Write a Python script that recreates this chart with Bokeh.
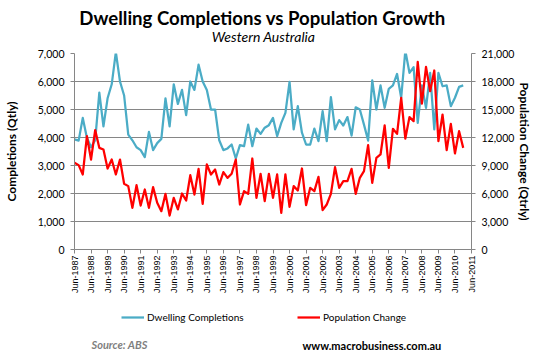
from math import pi
from bokeh.plotting import figure
from bokeh.layouts import column
from bokeh.models import (Range1d, LinearAxis, FixedTicker, Label, Legend,
                          LegendItem, NumeralTickFormatter, ColumnDataSource)
from bokeh.embed import file_html
from bokeh.resources import INLINE

# ---------------- data ----------------
tick_labels = ["Jun-1987", "Jun-1988", "Jun-1989", "Jun-1990", "Jun-1991", "Jun-1992",
               "Jun-1993", "Jun-1994", "Jun-1995", "Jun-1996", "Jun-1997", "Jun-1998",
               "Jun-1999", "Jun-2000", "Jun-2001", "Jun-2002", "Jun-2003", "Jun-2004",
               "Jun-2005", "Jun-2006", "Jun-2007", "Jun-2008", "Jun-2009", "Jun-2010",
               "Jun-2011"]

completions = [3930, 3890, 4700, 3990, 3650, 3900, 5600, 4400, 5400, 5900,
               7050, 6000, 5500, 4100, 3900, 3650, 3550, 3300, 4200, 3550,
               3800, 3950, 5400, 4400, 5900, 5200, 5700, 4800, 6000, 5700,
               6600, 6000, 5700, 5000, 5000, 3900, 3550, 3610, 3750, 3250,
               3730, 3690, 4460, 3690, 4320, 4130, 4350, 4440, 4700, 4050,
               4520, 4880, 5990, 4290, 5120, 4170, 3750, 3750, 4320, 3870,
               4940, 3870, 5440, 4290, 4620, 4430, 4730, 4070, 5080, 5000,
               4460, 3890, 6040, 5000, 5860, 5060, 5740, 5860, 6270, 5420,
               7100, 6310, 6510, 4520, 5860, 5060, 6310, 4290, 6310, 5830,
               5860, 5120, 5420, 5810, 5860]

population = [9290, 9040, 8040, 12140, 9640, 12790, 10890, 10710, 8680, 9640,
              8040, 9640, 7040, 6790, 4460, 6890, 4710, 6430, 4460, 6680,
              5000, 4110, 5960, 3640, 5540, 4290, 6000, 5250, 7960, 5890,
              8640, 4890, 9110, 8040, 8570, 6960, 8290, 7680, 8110, 9640,
              4820, 6250, 5960, 9750, 5540, 8110, 5180, 8110, 5540, 8040,
              3930, 8040, 4570, 6790, 6320, 8680, 4750, 6610, 6250, 7790,
              4210, 4820, 5960, 8820, 6610, 7320, 7320, 8640, 5960, 7680,
              8390, 11180, 7140, 9820, 10180, 13290, 8750, 12930, 12390, 16250,
              11890, 14180, 13750, 20110, 15640, 19570, 16960, 19180, 11610, 14460,
              10640, 13460, 10290, 12680, 10890]

quarter_index = list(range(len(completions)))   # quarters since Jun-1987

BLUE = "#4bacc6"
RED = "#ff0000"
GRID = "#868686"
FONT = "Lato"

src = ColumnDataSource(dict(q=quarter_index, comp=completions, pop=population))


def blank(h):
    # same horizontal borders as the chart, so column alignment keeps them fixed
    f = figure(frame_width=397, frame_height=h,
               min_border_left=70, min_border_right=75,
               min_border_top=0, min_border_bottom=0,
               x_range=Range1d(0, 1), y_range=Range1d(0, 1),
               x_axis_location=None, y_axis_location=None,
               output_backend="svg", toolbar_location=None,
               background_fill_color="white", border_fill_color="white")
    f.outline_line_color = None
    f.grid.visible = False
    return f


# ---------------- header ----------------
head = blank(45)
head.add_layout(Label(x=188, y=28, x_units="screen", y_units="screen",
                      text="Dwelling Completions vs Population Growth",
                      text_align="center", text_baseline="alphabetic",
                      text_font=FONT, text_font_style="bold", text_font_size="18.6px",
                      text_color="black"))
head.add_layout(Label(x=189, y=9, x_units="screen", y_units="screen",
                      text="Western Australia",
                      text_align="center", text_baseline="alphabetic",
                      text_font=FONT, text_font_style="italic", text_font_size="14px",
                      text_color="black"))

# ---------------- main chart ----------------
p = figure(frame_width=397, frame_height=196,
           min_border_left=70, min_border_right=75,
           min_border_top=8, min_border_bottom=50,
           x_range=Range1d(0, 96), y_range=Range1d(0, 7000),
           output_backend="svg", toolbar_location=None,
           background_fill_color="white", border_fill_color="white")
p.outline_line_color = None
p.extra_y_ranges = {"pop": Range1d(0, 21000)}

p.line("q", "comp", source=src, line_color=BLUE, line_width=2.25, line_join="round")
p.line("q", "pop", source=src, y_range_name="pop", line_color=RED,
       line_width=2.25, line_join="round")

xa = p.xaxis[0]
xa.ticker = FixedTicker(ticks=[4 * i for i in range(len(tick_labels))])
xa.major_label_overrides = {4 * i: t for i, t in enumerate(tick_labels)}
xa.major_label_orientation = pi / 2
xa.major_label_text_font = "Liberation Sans"
xa.major_label_text_font_size = "9px"
xa.major_label_text_color = "black"
xa.major_label_standoff = 2
xa.axis_line_color = GRID
xa.major_tick_line_color = GRID
xa.major_tick_in = 0
xa.major_tick_out = 4
xa.minor_tick_line_color = None


def style_y(ax, label, standoff):
    ax.formatter = NumeralTickFormatter(format="0,0")
    ax.axis_label = label
    ax.axis_label_text_font = FONT
    ax.axis_label_text_font_style = "bold"
    ax.axis_label_text_font_size = "12px"
    ax.axis_label_text_color = "black"
    ax.axis_label_standoff = standoff
    ax.major_label_text_font = FONT
    ax.major_label_text_font_size = "10.5px"
    ax.major_label_text_color = "black"
    ax.major_label_standoff = 6
    ax.axis_line_color = GRID
    ax.major_tick_line_color = GRID
    ax.major_tick_in = 0
    ax.major_tick_out = 4
    ax.minor_tick_line_color = None


ya = p.yaxis[0]
ya.ticker = FixedTicker(ticks=list(range(0, 7001, 1000)))
style_y(ya, "Completions (Qtly)", 16)

ra = LinearAxis(y_range_name="pop")
ra.ticker = FixedTicker(ticks=list(range(0, 21001, 3000)))
style_y(ra, "Population Change (Qtrly)", 0)
p.add_layout(ra, "right")

p.xgrid.grid_line_color = None
p.ygrid.ticker = FixedTicker(ticks=list(range(0, 7001, 1000)))
p.ygrid.grid_line_color = GRID
p.ygrid.grid_line_width = 1

# ---------------- footer (legend + source) ----------------
foot = blank(62)
# series drawn again only to give the legend its swatches (outside the view range)
lb = foot.line("q", "comp", source=src, line_color=BLUE, line_width=2.25)
lr = foot.line("q", "pop", source=src, line_color=RED, line_width=2.25)
for rend, name, lx in [(lb, "Dwelling Completions", 47), (lr, "Population Change", 223)]:
    lg = Legend(items=[LegendItem(label=name, renderers=[rend])],
                location=(lx, 38), orientation="horizontal",
                padding=0, margin=0, border_line_color=None,
                background_fill_alpha=0, glyph_width=23, glyph_height=12,
                label_height=12, label_standoff=3,
                label_text_font=FONT, label_text_font_size="10px",
                label_text_color="black")
    foot.add_layout(lg, "center")

foot.add_layout(Label(x=17, y=17, x_units="screen", y_units="screen",
                      text="Source: ABS", text_align="left", text_baseline="middle",
                      text_font=FONT, text_font_style="bold italic",
                      text_font_size="11px", text_color="#7f7f7f"))
foot.add_layout(Label(x=228, y=16, x_units="screen", y_units="screen",
                      text="www.macrobusiness.com.au", text_align="left",
                      text_baseline="middle", text_font=FONT, text_font_style="bold",
                      text_font_size="11px", text_color="black"))

layout = column(head, p, foot, spacing=0)
open("out.html", "w").write(file_html(layout, INLINE))
